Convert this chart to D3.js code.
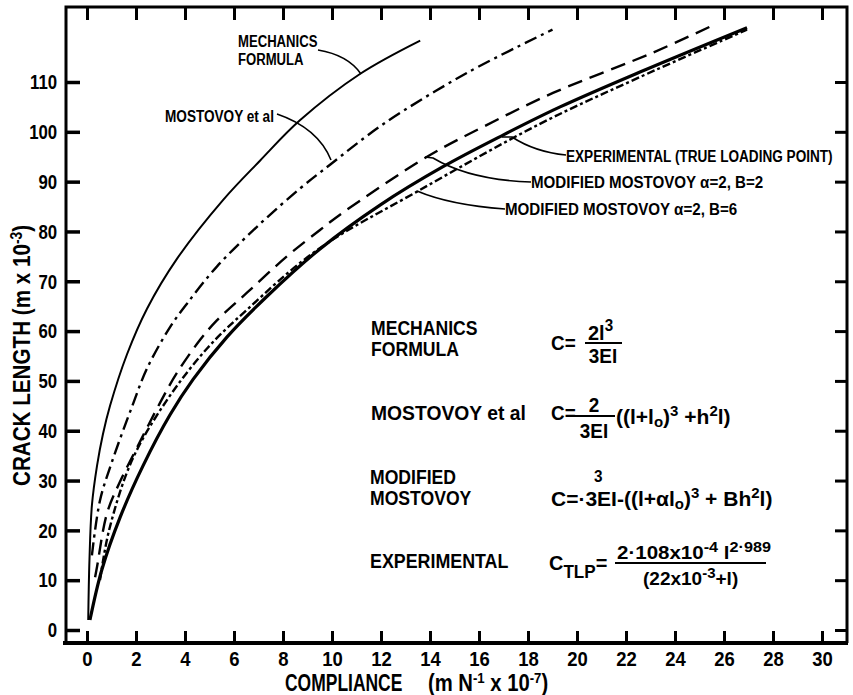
<!DOCTYPE html>
<html>
<head>
<meta charset="utf-8">
<script src="https://cdn.jsdelivr.net/npm/d3@7.9.0/dist/d3.min.js"></script>
<style>
  body { margin: 0; background: #fff; }
  svg text { font-family: "Liberation Sans", Arial, sans-serif; font-weight: bold; fill: #000; }
</style>
</head>
<body>
<svg id="chart" width="853" height="695"></svg>
<script>
// ---- data: [compliance (m N^-1 x 10^-7), crack length (m x 10^-3)] ----
const mechanics = [
  [0.05, 2], [0.1, 14], [0.2, 25], [0.41, 33], [0.65, 39.3], [0.94, 45],
  [1.63, 55.3], [2.45, 64.5], [3.67, 74.5], [5.55, 86.3], [7.06, 94.2],
  [8.69, 102.3], [11.14, 111.6], [13.6, 118.3]
];
const mostovoy = [
  [0.2, 15], [0.53, 26], [1.0, 33.5], [1.85, 45], [2.45, 52.5], [3.39, 60.8],
  [4.08, 65.5], [5.31, 73], [7.06, 81.5], [8.69, 88.6], [9.92, 93.4],
  [12.08, 101.5], [15.5, 111.8], [19.0, 120.5]
];
const modifiedB2 = [
  [0.33, 10.6], [0.41, 12.7], [0.82, 23.5], [1.35, 29.8], [2.04, 36.6],
  [2.98, 45.6], [3.67, 51.6], [4.61, 58.2], [5.31, 62.2], [6.53, 67.7],
  [8.16, 75], [9.51, 80.3], [10.45, 83.8], [13.88, 95], [16.33, 101.4],
  [19.02, 107.8], [23.1, 115.9], [25.43, 121.1]
];
const modifiedB6 = [
  [0.53, 10], [0.9, 20], [1.84, 34.1], [3.27, 46.2], [4.9, 56.5], [6.53, 64.3],
  [9.4, 76.3], [13.47, 88], [18.49, 101.6], [22.57, 111], [26.94, 120.5]
];
const experimental = [
  [0.12, 2], [0.6, 12], [1.35, 22.6], [2.29, 33], [3.39, 43.2], [4.33, 50.3],
  [5.71, 58.8], [7.35, 67], [9.51, 76.5], [11.96, 85.3], [14.53, 93],
  [17.0, 99.4], [19.31, 105], [22.57, 112], [26.94, 120.9]
];

const xTicks = d3.range(0, 31, 2);
const yTicks = d3.range(0, 111, 10);

const series = [
  { name: 'mechanics', points: mechanics, width: 2, dash: null },
  { name: 'mostovoy', points: mostovoy, width: 2.4, dash: '13,5,3,5' },
  { name: 'modifiedB2', points: modifiedB2, width: 2.4, dash: '15,8' },
  { name: 'modifiedB6', points: modifiedB6, width: 2.4, dash: '8,3,3,3' },
  { name: 'experimental', points: experimental, width: 3.2, dash: null }
];

// ---- layout ----
const frame = { left: 66, right: 847, top: 7, bottom: 643 };

const svg = d3.select('#chart');

const x = d3.scaleLinear().domain([0, 30]).range([87, 822]);
const y = d3.scaleLinear().domain([0, 110]).range([630, 82]);

// condensed text helper (hand lettering is narrow)
function addText(parent, px, py, size, sx, anchor) {
  return parent.append('text')
    .attr('transform', `translate(${px},${py}) scale(${sx},1)`)
    .attr('text-anchor', anchor || 'start')
    .style('font-size', size + 'px');
}
// parts: [text, 'sup' | 'sub' | undefined]
function rich(t, parts, small, upShift, downShift) {
  let cur = 0;
  const down = downShift == null ? upShift : downShift;
  parts.forEach(([str, kind]) => {
    const target = kind === 'sup' ? -upShift : kind === 'sub' ? down : 0;
    const ts = t.append('tspan').attr('dy', target - cur).text(str);
    if (kind) ts.style('font-size', small + 'px');
    cur = target;
  });
  return t;
}

// frame
svg.append('path')
  .attr('d', `M${frame.left},${frame.bottom} V${frame.top} H${frame.right} V${frame.bottom}`)
  .attr('fill', 'none').attr('stroke', '#000').attr('stroke-width', 3);
svg.append('line')
  .attr('x1', frame.left - 3).attr('x2', frame.right + 1)
  .attr('y1', frame.bottom).attr('y2', frame.bottom)
  .attr('stroke', '#000').attr('stroke-width', 4);

// axes (ticks pointing inwards)
function styleAxis(g, w, sx) {
  g.select('.domain').remove();
  g.selectAll('.tick line').attr('stroke', '#000').attr('stroke-width', w);
  if (sx) {
    g.selectAll('.tick text')
      .style('font-size', '21px')
      .attr('transform', `scale(${sx},1)`);
  } else {
    g.selectAll('.tick text').remove();
  }
}

svg.append('g')
  .attr('transform', `translate(${frame.left},0)`)
  .call(d3.axisLeft(y).tickValues(yTicks).tickSize(-14).tickPadding(11))
  .call(g => styleAxis(g, 3.5, 0.8));

svg.append('g')
  .attr('transform', `translate(0,${frame.bottom})`)
  .call(d3.axisBottom(x).tickValues(xTicks).tickSize(-12).tickPadding(8))
  .call(g => styleAxis(g, 3, 0.88));

svg.append('g')
  .attr('transform', `translate(0,${frame.top})`)
  .call(d3.axisTop(x).tickValues(xTicks).tickSize(-13))
  .call(g => styleAxis(g, 3, 0));

svg.append('g')
  .attr('transform', `translate(${frame.right},0)`)
  .call(d3.axisRight(y).tickValues(yTicks).tickSize(-12))
  .call(g => styleAxis(g, 3, 0));

// axis titles
addText(svg, 285, 691, 23, 0.76).text('COMPLIANCE');
rich(addText(svg, 428, 691, 23, 0.88),
  [['(m N'], ['-1', 'sup'], [' x 10'], ['-7', 'sup'], [')']], 15, 8);

rich(svg.append('text')
  .attr('transform', 'translate(30,486) rotate(-90) scale(0.86,1)')
  .style('font-size', '24px'),
  [['CRACK LENGTH  (m x 10'], ['-3', 'sup'], [')']], 16, 8);

// curves
const line = d3.line()
  .x(d => x(d[0]))
  .y(d => y(d[1]))
  .curve(d3.curveCatmullRom.alpha(0.5));

svg.append('g')
  .selectAll('path')
  .data(series)
  .join('path')
  .attr('d', d => line(d.points))
  .attr('fill', 'none')
  .attr('stroke', '#000')
  .attr('stroke-width', d => d.width)
  .attr('stroke-dasharray', d => d.dash);

// curve labels + leaders
const labels = svg.append('g');
addText(labels, 238, 47, 16, 0.82).text('MECHANICS');
addText(labels, 238, 65, 16, 0.82).text('FORMULA');
addText(labels, 165, 122, 16, 0.85).text('MOSTOVOY et al');
addText(labels, 566, 162, 17, 0.8).text('EXPERIMENTAL (TRUE LOADING POINT)');
addText(labels, 531, 188, 17, 0.89).text('MODIFIED MOSTOVOY α=2, B=2');
addText(labels, 505, 215, 17, 0.89).text('MODIFIED MOSTOVOY α=2, B=6');

const leaders = [
  'M318,50 Q348,55 361,74',
  'M277,114 Q318,128 331,160',
  'M502,137 L512,137 Q535,152 566,155',
  'M425,157 L433,158 Q470,180 531,182',
  'M417,191 Q450,205 505,209'
];
svg.append('g')
  .selectAll('path')
  .data(leaders)
  .join('path')
  .attr('d', d => d)
  .attr('fill', 'none')
  .attr('stroke', '#000')
  .attr('stroke-width', 1.6);

// formula block
const fx = svg.append('g');
function bar(x1, x2, yy) {
  fx.append('line').attr('x1', x1).attr('x2', x2).attr('y1', yy).attr('y2', yy)
    .attr('stroke', '#000').attr('stroke-width', 2);
}

addText(fx, 371, 335, 20, 0.88).text('MECHANICS');
addText(fx, 371, 356, 20, 0.88).text('FORMULA');
addText(fx, 551, 350, 21, 0.9).text('C=');
rich(addText(fx, 588, 340, 21, 0.95), [['2l'], ['3', 'sup']], 16, 9);
bar(585, 622, 343);
addText(fx, 603, 363, 21, 0.9, 'middle').text('3EI');

addText(fx, 371, 420, 21, 0.92).text('MOSTOVOY et al');
addText(fx, 551, 420, 21, 0.9).text('C=');
addText(fx, 594, 412, 21, 0.9, 'middle').text('2');
bar(572, 615, 416);
addText(fx, 594, 438, 21, 0.9, 'middle').text('3EI');
rich(addText(fx, 616, 424, 21, 1.0),
  [['((l+l'], ['o', 'sub'], [')'], ['3', 'sup'], [' +h'], ['2', 'sup'], ['l)']], 15, 8, 3);

addText(fx, 370, 484, 20, 0.88).text('MODIFIED');
addText(fx, 370, 505, 20, 0.88).text('MOSTOVOY');
addText(fx, 594, 482, 17, 0.9).text('3');
rich(addText(fx, 551, 506, 21, 1.0),
  [['C=·3EI-((l+αl'], ['o', 'sub'], [')'], ['3', 'sup'], [' + Bh'], ['2', 'sup'], ['l)']], 15, 8, 3);

addText(fx, 370, 568, 21, 0.85).text('EXPERIMENTAL');
rich(addText(fx, 549, 570, 21, 0.95), [['C'], ['TLP', 'sub'], ['=']], 18, 8);
rich(addText(fx, 617, 559, 19, 1.08),
  [['2·108x10'], ['-4', 'sup'], [' l'], ['2·989', 'sup']], 15, 7);
bar(615, 766, 563);
rich(addText(fx, 643, 585, 19, 1.0), [['(22x10'], ['-3', 'sup'], ['+l)']], 15, 7);
</script>
</body>
</html>
